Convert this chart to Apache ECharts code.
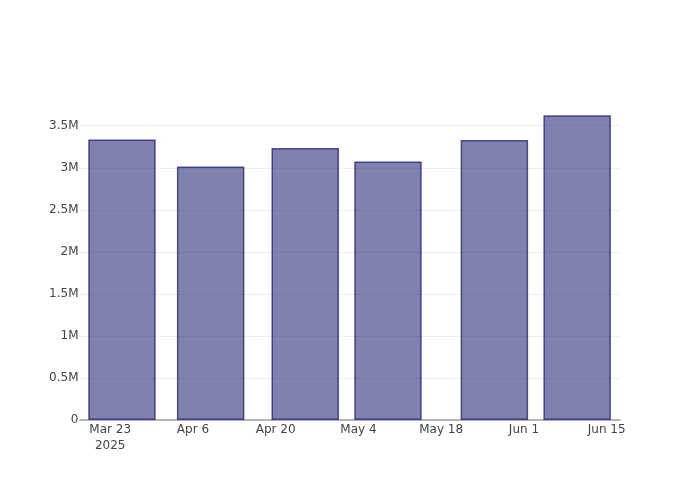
<!DOCTYPE html>
<html>
<head>
<meta charset="utf-8">
<script src="https://cdn.jsdelivr.net/npm/echarts@6/dist/echarts.min.js"></script>
<style>html,body{margin:0;padding:0;background:#fff}#c{width:700px;height:500px}</style>
</head>
<body>
<div id="c"></div>
<script>
// Data
const categories = ["2025-03-25", "2025-04-09", "2025-04-25", "2025-05-09", "2025-05-27", "2025-06-10"];
const values = [3336000, 3014000, 3236000, 3074000, 3331000, 3625000];
const tickDates = ["2025-03-23", "2025-04-06", "2025-04-20", "2025-05-04", "2025-05-18", "2025-06-01", "2025-06-15"];
const tickLabels = ["Mar 23\n2025", "Apr 6", "Apr 20", "May 4", "May 18", "Jun 1", "Jun 15"];
const yTicks = [0, 500000, 1000000, 1500000, 2000000, 2500000, 3000000, 3500000];

const DAY = 86400000;
const ts = s => Date.parse(s + "T00:00:00Z");
const tickTs = tickDates.map(ts);
const xMin = ts("2025-03-23") - 5.1 * DAY;
const xMax = ts("2025-03-23") + 86.25 * DAY;
const yMax = 3806000;

const chart = echarts.init(document.getElementById('c'), null, {renderer: 'canvas'});
chart.setOption({
  animation: false,
  backgroundColor: '#fff',
  grid: {left: 80, right: 80, top: 100, bottom: 80, containLabel: false},
  xAxis: {
    type: 'value',
    min: xMin,
    max: xMax,
    axisLine: {show: true, onZero: false, lineStyle: {color: '#a0a0a0', width: 1.5}},
    axisTick: {show: false, customValues: tickTs},
    splitLine: {show: false},
    axisLabel: {
      customValues: tickTs,
      color: '#444',
      fontFamily: 'DejaVu Sans',
      fontSize: 12,
      lineHeight: 16,
      margin: 2,
      formatter: v => {
        const i = tickTs.indexOf(v);
        return i >= 0 ? tickLabels[i] : '';
      }
    }
  },
  yAxis: {
    type: 'value',
    min: 0,
    max: yMax,
    axisLine: {show: false},
    axisTick: {show: false, customValues: yTicks},
    splitLine: {show: true, lineStyle: {color: '#eeeeee', width: 1}},
    axisLabel: {
      customValues: yTicks,
      color: '#444',
      fontFamily: 'DejaVu Sans',
      fontSize: 12,
      margin: 1.5,
      formatter: v => v === 0 ? '0' : (v / 1e6) + 'M'
    }
  },
  series: [{
    type: 'bar',
    data: categories.map((d, i) => [ts(d), values[i]]),
    barWidth: 67.5,
    itemStyle: {
      color: 'rgba(25,25,112,0.55)',
      borderColor: 'rgba(25,25,112,0.72)',
      borderWidth: 1.5
    }
  }]
});
</script>
</body>
</html>
